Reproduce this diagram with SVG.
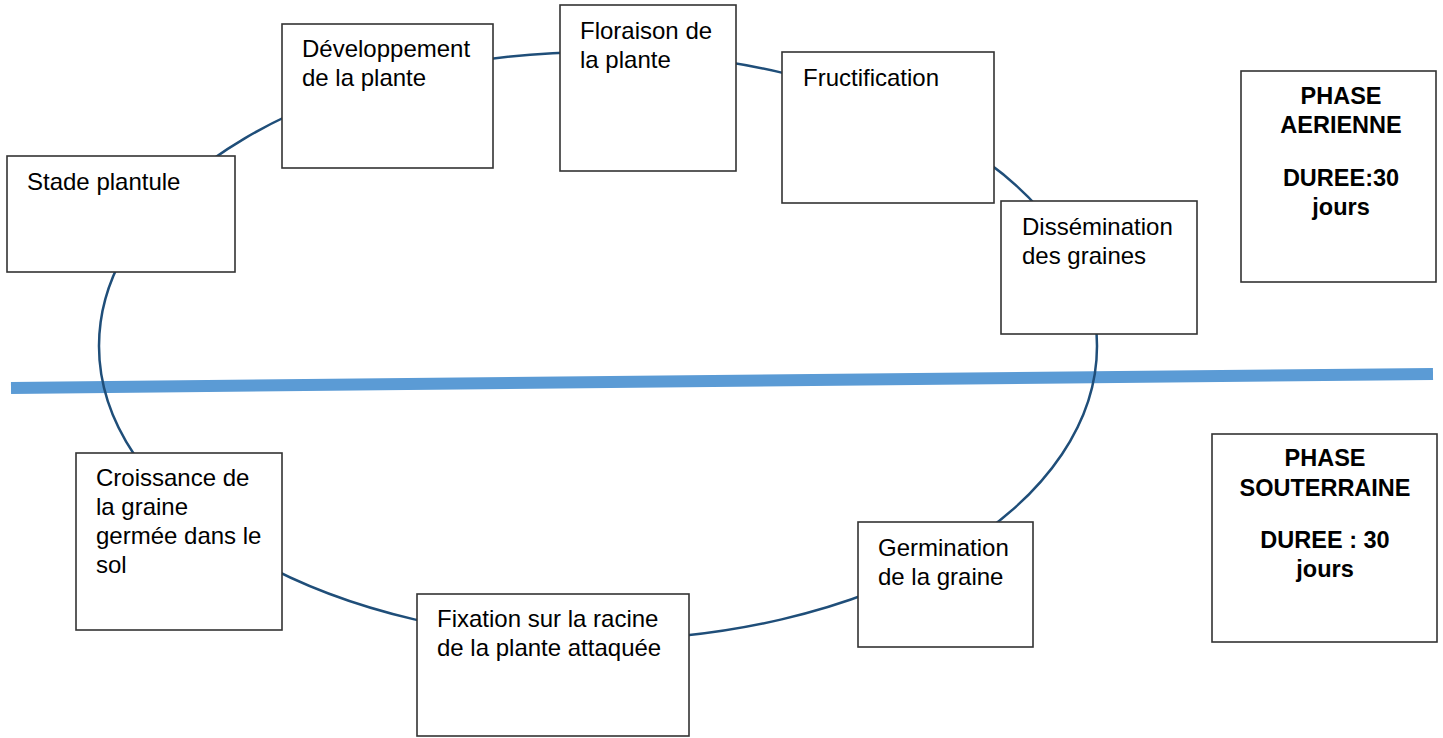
<svg xmlns="http://www.w3.org/2000/svg" width="1443" height="738" viewBox="0 0 1443 738">
<style>
.box{fill:#fff;stroke:#333;stroke-width:1.6}
.t{font-family:"Liberation Sans",Arial,sans-serif;font-size:24px;fill:#000}
.b{font-family:"Liberation Sans",Arial,sans-serif;font-size:23.5px;font-weight:bold;fill:#000;text-anchor:middle}
</style>
<rect width="1443" height="738" fill="#fff"/>
<g id="connectors">
<line x1="11" y1="388" x2="1433" y2="374" stroke="#5B9BD5" stroke-width="12"/>
<ellipse cx="598" cy="346" rx="499" ry="294" fill="none" stroke="#1F4E79" stroke-width="2.5"/>
</g>
<g id="stade-plantule"><rect class="box" x="7" y="156" width="228" height="116"/><text class="t" x="27" y="190">Stade plantule</text></g>
<g id="developpement"><rect class="box" x="282" y="24" width="211" height="144"/><text class="t" x="302" y="57">Développement</text><text class="t" x="302" y="86">de la plante</text></g>
<g id="floraison"><rect class="box" x="560" y="5" width="176" height="166"/><text class="t" x="580" y="39">Floraison de</text><text class="t" x="580" y="68">la plante</text></g>
<g id="fructification"><rect class="box" x="782" y="52" width="212" height="151"/><text class="t" x="803" y="86">Fructification</text></g>
<g id="dissemination"><rect class="box" x="1001" y="201" width="196" height="133"/><text class="t" x="1022" y="235">Dissémination</text><text class="t" x="1022" y="264">des graines</text></g>
<g id="phase-aerienne"><rect class="box" x="1241" y="71" width="195" height="211"/><text class="b" x="1341" y="104">PHASE</text><text class="b" x="1341" y="133">AERIENNE</text><text class="b" x="1341" y="186">DUREE:30</text><text class="b" x="1341" y="215">jours</text></g>
<g id="phase-souterraine"><rect class="box" x="1212" y="434" width="225" height="208"/><text class="b" x="1325" y="466">PHASE</text><text class="b" x="1325" y="496">SOUTERRAINE</text><text class="b" x="1325" y="548">DUREE : 30</text><text class="b" x="1325" y="577">jours</text></g>
<g id="croissance"><rect class="box" x="76" y="453" width="206" height="177"/><text class="t" x="96" y="486">Croissance de</text><text class="t" x="96" y="515">la graine</text><text class="t" x="96" y="544">germée dans le</text><text class="t" x="96" y="573">sol</text></g>
<g id="fixation"><rect class="box" x="417" y="594" width="272" height="142"/><text class="t" x="437" y="627">Fixation sur la racine</text><text class="t" x="437" y="656">de la plante attaquée</text></g>
<g id="germination"><rect class="box" x="858" y="522" width="175" height="125"/><text class="t" x="878" y="556">Germination</text><text class="t" x="878" y="585">de la graine</text></g>
</svg>
